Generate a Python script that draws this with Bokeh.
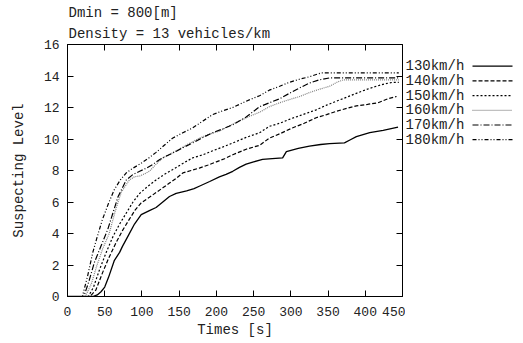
from bokeh.plotting import figure
from bokeh.layouts import row
from bokeh.models import Range1d, LinearAxis, Title, FixedTicker
from bokeh.core.properties import value
from bokeh.embed import file_html
from bokeh.resources import INLINE

FONT = "Liberation Mono"

title_lines = ["Dmin = 800[m]", "Density = 13 vehicles/km"]
x_label = "Times [s]"
y_label = "Suspecting Level"
x_ticks = [0, 50, 100, 150, 200, 250, 300, 350, 400, 450]
y_ticks = [0, 2, 4, 6, 8, 10, 12, 14, 16]

names = ["130km/h", "140km/h", "150km/h", "160km/h", "170km/h", "180km/h"]

x130 = [0, 34, 40, 45, 50, 55, 63, 70, 74, 82, 90, 99, 110, 119, 128, 137, 146, 160, 170, 177, 191, 204, 213, 222, 231, 240, 250, 262, 275, 289, 294, 310, 325, 340, 352, 372, 380, 388, 406, 424, 444]
y130 = [0, 0, 0.1, 0.3, 0.6, 1.2, 2.3, 2.8, 3.2, 3.9, 4.6, 5.2, 5.45, 5.65, 6.0, 6.35, 6.55, 6.7, 6.85, 7.0, 7.3, 7.6, 7.75, 7.95, 8.2, 8.4, 8.55, 8.7, 8.75, 8.8, 9.2, 9.4, 9.55, 9.65, 9.7, 9.75, 9.95, 10.15, 10.4, 10.55, 10.75]

x140 = [0, 30, 38, 47, 55, 65, 74, 83, 91, 99, 110, 119, 128, 137, 146, 155, 166, 177, 189, 200, 211, 222, 240, 258, 271, 286, 302, 318, 334, 348, 361, 375, 388, 403, 417, 430, 442]
y140 = [0, 0, 0.4, 1.5, 2.4, 3.4, 4.2, 4.9, 5.5, 5.95, 6.3, 6.6, 6.9, 7.2, 7.5, 7.85, 8.0, 8.15, 8.35, 8.55, 8.75, 9.0, 9.35, 9.6, 10.05, 10.35, 10.7, 11.0, 11.35, 11.55, 11.75, 11.95, 12.1, 12.2, 12.3, 12.55, 12.7]

x150 = [0, 28, 35, 43, 52, 61, 70, 79, 88, 97, 108, 119, 130, 141, 155, 168, 182, 195, 209, 222, 240, 258, 271, 285, 298, 316, 334, 348, 361, 375, 388, 402, 415, 426, 437, 445]
y150 = [0, 0, 0.6, 1.7, 2.8, 3.8, 4.6, 5.3, 6.0, 6.55, 7.0, 7.4, 7.75, 8.05, 8.45, 8.8, 9.0, 9.25, 9.5, 9.75, 10.1, 10.4, 10.8, 11.0, 11.25, 11.55, 11.85, 12.15, 12.4, 12.65, 12.9, 13.15, 13.35, 13.5, 13.6, 13.6]

x160 = [0, 24, 32, 39, 47, 56, 64, 72, 83, 90, 97, 104, 110, 119, 128, 140, 150, 163, 177, 190, 204, 218, 231, 245, 258, 271, 285, 298, 312, 325, 338, 352, 362, 370, 445]
y160 = [0, 0, 0.8, 1.9, 3.0, 4.0, 5.4, 6.6, 7.4, 7.6, 7.65, 7.8, 7.95, 8.4, 8.8, 9.1, 9.35, 9.7, 10.05, 10.3, 10.5, 10.85, 11.15, 11.45, 11.7, 12.05, 12.3, 12.5, 12.7, 12.95, 13.15, 13.35, 13.6, 13.75, 13.75]

x170 = [0, 22, 29, 36, 45, 54, 61, 68, 79, 88, 97, 106, 115, 124, 132, 141, 155, 168, 182, 195, 209, 222, 240, 258, 271, 285, 298, 312, 325, 338, 352, 445]
y170 = [0, 0, 1.0, 2.15, 3.2, 4.25, 5.3, 6.35, 7.4, 7.75, 7.95, 8.15, 8.4, 8.7, 8.9, 9.1, 9.45, 9.75, 10.1, 10.4, 10.65, 10.9, 11.4, 12.05, 12.3, 12.55, 12.9, 13.25, 13.55, 13.75, 13.88, 13.88]

x180 = [0, 20, 27, 34, 40, 47, 55, 63, 71, 79, 88, 97, 108, 119, 130, 141, 155, 168, 182, 195, 209, 222, 240, 258, 271, 285, 298, 312, 325, 341, 445]
y180 = [0, 0, 1.3, 2.8, 3.8, 4.9, 5.9, 6.8, 7.4, 7.85, 8.15, 8.4, 8.75, 9.15, 9.6, 10.05, 10.4, 10.7, 11.15, 11.55, 11.8, 12.0, 12.4, 12.75, 13.1, 13.35, 13.6, 13.8, 13.95, 14.2, 14.2]

xs = [x130, x140, x150, x160, x170, x180]
ys = [y130, y140, y150, y160, y170, y180]
dashes = ["solid", "4 2", "2 2", "1 1", "6 2 1 2", "4 2 1 2 1 2"]
colors = ["#000000", "#000000", "#000000", "#808080", "#000000", "#000000"]
widths = [1.3, 1.2, 1.2, 1.2, 1.2, 1.2]

H = 341
FRAME_H = 252
p = figure(width=405, height=H, output_backend="svg", toolbar_location=None,
           x_range=Range1d(0, 450), y_range=Range1d(0, 16),
           min_border_left=67, min_border_right=3, min_border_top=44, min_border_bottom=H - 44 - FRAME_H)
p.grid.visible = False
p.outline_line_color = "black"
p.outline_line_width = 1
p.background_fill_color = "white"
p.border_fill_color = "white"

for ax, ticks in ((p.xaxis[0], x_ticks), (p.yaxis[0], y_ticks)):
    ax.ticker = FixedTicker(ticks=ticks)
    ax.minor_tick_line_color = None
    ax.major_tick_in = 6
    ax.major_tick_out = 0
    ax.axis_line_color = "black"
    ax.major_tick_line_color = "black"
    ax.major_label_text_font = FONT
    ax.major_label_text_font_size = "13px"
    ax.major_label_text_color = "#222222"
    ax.axis_label_text_font = FONT
    ax.axis_label_text_font_size = "14px"
    ax.axis_label_text_font_style = "normal"
    ax.axis_label_text_color = "#222222"

p.xaxis[0].axis_label = x_label
p.yaxis[0].axis_label = y_label
p.xaxis[0].major_label_standoff = 10
p.xaxis[0].axis_label_standoff = 3
p.yaxis[0].major_label_standoff = 8
p.yaxis[0].axis_label_standoff = 14

for loc, ticks in (("above", x_ticks), ("right", y_ticks)):
    ax = LinearAxis(ticker=FixedTicker(ticks=ticks))
    ax.minor_tick_line_color = None
    ax.major_tick_in = 6
    ax.major_tick_out = 0
    ax.major_label_overrides = {t: "" for t in ticks}
    ax.major_label_standoff = 0
    ax.axis_line_color = None
    p.add_layout(ax, loc)

for xv, yv, d, c, w in zip(xs, ys, dashes, colors, widths):
    p.line(xv, yv, line_color=c, line_dash=d, line_width=w)

# title lines (first added sits closest to the frame)
for t, so in zip(reversed(title_lines), (5, 1)):
    p.add_layout(Title(text=t, align="left", text_font=FONT, text_font_size="14px",
                       text_font_style="normal", text_color="#222222", standoff=so, offset=1), "above")

# legend panel (its frame is aligned with the main frame): text left, sample right
LW = 112
leg = figure(width=LW, height=H, output_backend="svg", toolbar_location=None,
             x_range=Range1d(0, LW), y_range=Range1d(FRAME_H, 0),
             min_border_left=0, min_border_right=0, min_border_top=44,
             min_border_bottom=H - 44 - FRAME_H)
leg.axis.visible = False
leg.grid.visible = False
leg.outline_line_color = None
leg.background_fill_color = "white"
leg.border_fill_color = "white"

row_top = 21.7
row_step = 14.7
for i, (n, d, c, w) in enumerate(zip(names, dashes, colors, widths)):
    yy = row_top + row_step * i
    leg.text(x=[0], y=[yy], text=[n], text_font_size="14px", text_color="#222222",
             text_baseline="middle", text_align="left", text_font=value(FONT))
    leg.line(x=[67, 107], y=[yy, yy], line_color=c, line_dash=d, line_width=w)

open("out.html", "w").write(file_html(row(p, leg), INLINE))
